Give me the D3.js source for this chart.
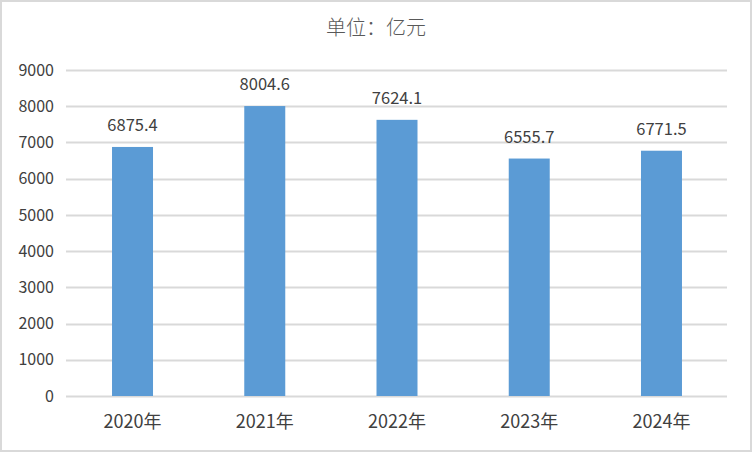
<!DOCTYPE html>
<html><head><meta charset="utf-8">
<script src="https://cdn.jsdelivr.net/npm/d3@7"></script>
<style>
html,body{margin:0;padding:0;background:#fff;}
svg{display:block;}
text{font-family:"Noto Sans CJK SC","Noto Sans",sans-serif;}
</style></head>
<body>
<script>
const categories = ["2020年","2021年","2022年","2023年","2024年"];
const values = [6875.4, 8004.6, 7624.1, 6555.7, 6771.5];
const valueLabels = ["6875.4","8004.6","7624.1","6555.7","6771.5"];
const yTicks = [0,1000,2000,3000,4000,5000,6000,7000,8000,9000];
const title = "单位：亿元";

const W = 752, H = 452;
const svg = d3.select("body").append("svg").attr("width", W).attr("height", H);
svg.append("rect").attr("x",1).attr("y",1).attr("width",W-2).attr("height",H-2)
  .attr("fill","#fff").attr("stroke","#d9d9d9").attr("stroke-width",2);

const x = d3.scaleBand().domain(categories).range([66.4, 727.6]).paddingInner(0.69).paddingOuter(0.345);
const y = d3.scaleLinear().domain([0, 9000]).range([396, 70]);

const grid = svg.append("g");
grid.selectAll("line").data(yTicks).join("line")
  .attr("x1", 66).attr("x2", 727)
  .attr("y1", d => Math.round(y(d))+0.5).attr("y2", d => Math.round(y(d))+0.5)
  .attr("stroke", "#d9d9d9").attr("stroke-width", 2);

const yAxis = d3.axisLeft(y).tickValues(yTicks).tickSize(0).tickPadding(0).tickFormat(d3.format("d"));
const ya = svg.append("g").attr("transform","translate(54,0)").call(yAxis);
ya.select(".domain").remove();
ya.selectAll("text").attr("font-size", 16).attr("fill","#404040")
  .attr("font-family","'Noto Sans','Noto Sans CJK SC',sans-serif");

svg.append("g").selectAll("rect").data(values).join("rect")
  .attr("x", (d,i) => x(categories[i]))
  .attr("width", x.bandwidth())
  .attr("y", d => y(d))
  .attr("height", d => y(0) - y(d))
  .attr("fill", "#5b9bd5");

svg.append("g").selectAll("text").data(values).join("text")
  .attr("x", (d,i) => x(categories[i]) + x.bandwidth()/2)
  .attr("y", d => y(d) - 16)
  .attr("text-anchor","middle").attr("font-size",16.5).attr("fill","#404040")
  .attr("font-family","'Noto Sans','Noto Sans CJK SC',sans-serif")
  .text((d,i) => valueLabels[i]);

const xAxis = d3.axisBottom(x).tickSize(0).tickPadding(0);
const xa = svg.append("g").attr("transform","translate(0,396)").call(xAxis);
xa.select(".domain").remove();
xa.selectAll("text").attr("font-size",18).attr("fill","#404040").attr("dy", "32px");

svg.append("text").attr("x", 376).attr("y", 35).attr("text-anchor","middle")
  .attr("font-size",20).attr("font-weight",300).attr("fill","#595959").text(title);
</script>
</body></html>
